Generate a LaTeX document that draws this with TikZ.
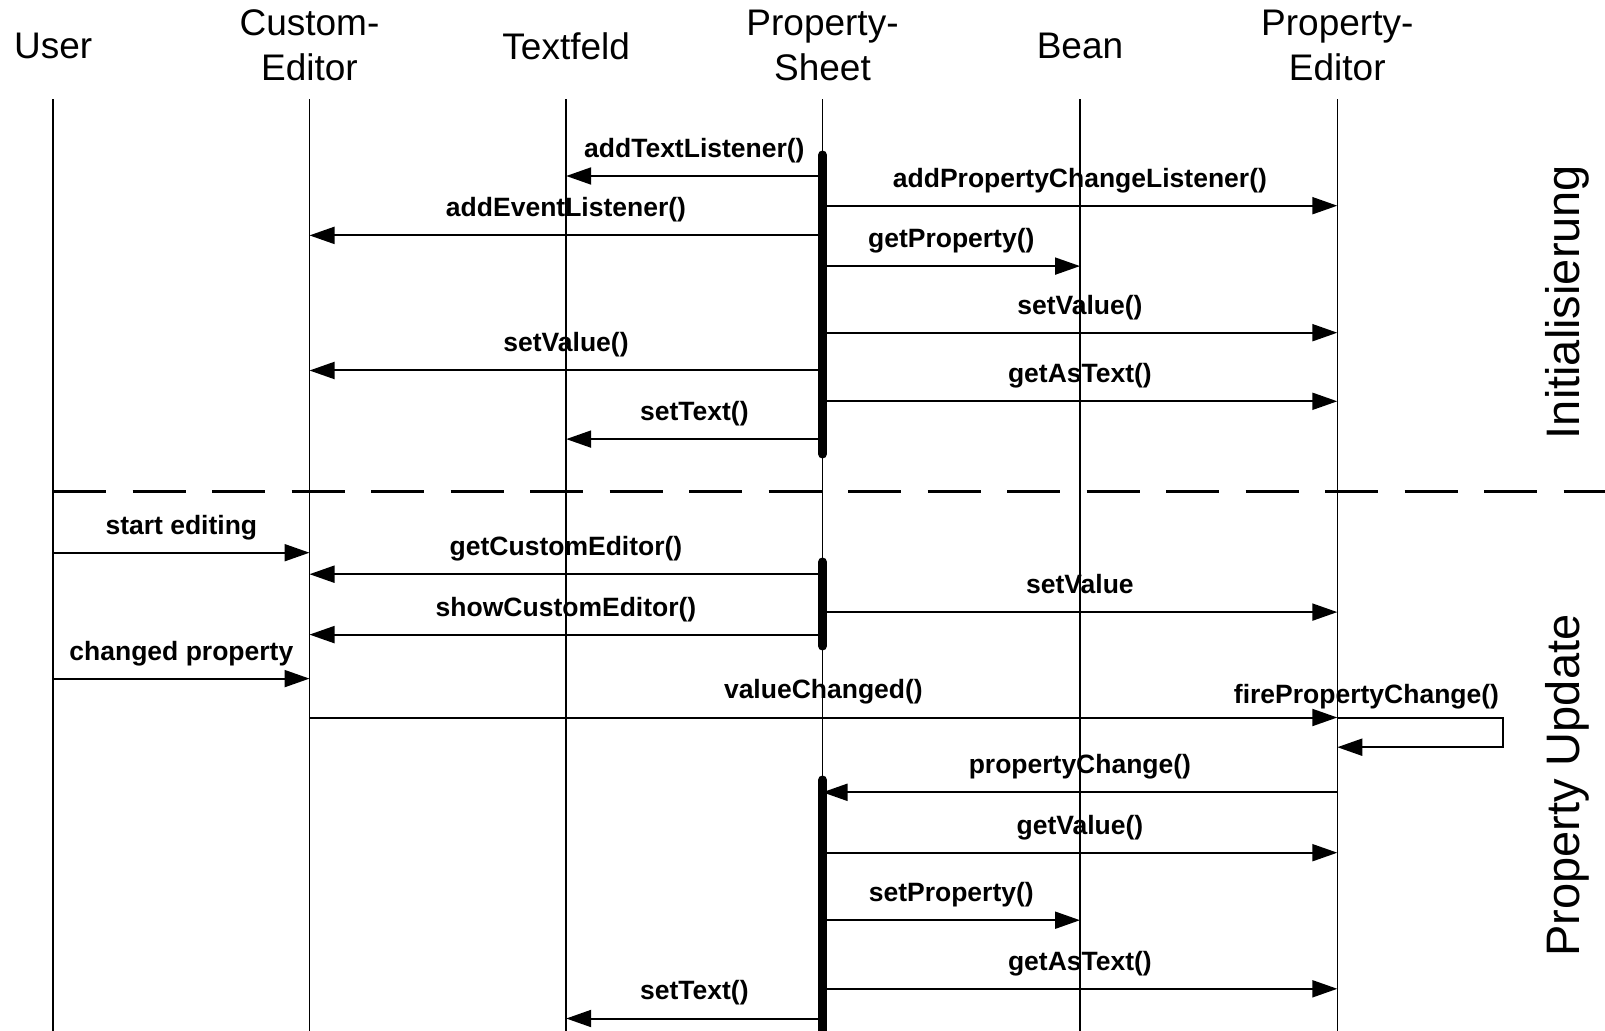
\documentclass[tikz,border=0pt]{standalone}
\usepackage{fontspec}
\setmainfont{Liberation Sans}
\usetikzlibrary{arrows.meta}
\begin{document}
\begin{tikzpicture}[x=0.5pt,y=-0.5pt,
 hdr/.style={font=\fontsize{18.5}{22.5}\selectfont, align=center, inner sep=0},
 side/.style={font=\fontsize{23.5}{28}\selectfont, rotate=90, anchor=base, inner sep=0},
 lbl/.style={font=\bfseries\fontsize{13.25}{16}\selectfont, inner sep=0, anchor=base},
 life/.style={line width=0.75pt},
 bar/.style={line width=4.5pt, line cap=round},
 msg/.style={line width=1pt, -{Triangle[length=12.5pt,width=8.5pt]}},
 sepline/.style={line width=1.6pt, dash pattern=on 26.5pt off 13.25pt}]
\useasboundingbox (0,0) rectangle (1605,1031);
\newcommand\seqmsg[4]{\draw[msg] (#1 |- 0,#3) -- node[lbl, midway, yshift=9.3pt]{#4} (#2 |- 0,#3);}
% headers
\node[hdr] (hU)  at (53.2,46)  {User};
\node[hdr] (hCE) at (309.5,45) {Custom-\\Editor};
\node[hdr] (hTF) at (566.2,46) {Textfeld};
\node[hdr] (hPS) at (822.5,45) {Property-\\Sheet};
\node[hdr] (hB)  at (1080,46)  {Bean};
\node[hdr] (hPE) at (1337.3,45) {Property-\\Editor};
% lifeline tops
\coordinate (U)  at (53.2,99.3);
\coordinate (CE) at (309.5,99.3);
\coordinate (TF) at (566.2,99.3);
\coordinate (PS) at (822.5,99.3);
\coordinate (B)  at (1080,99.3);
\coordinate (PE) at (1337.3,99.3);
\foreach \l in {U,CE,TF,PS,B,PE} \draw[life] (\l) -- (\l |- 0,1031);
% activation bars
\draw[bar] (PS |- 0,155) -- (PS |- 0,454);
\draw[bar] (PS |- 0,562) -- (PS |- 0,646);
\draw[bar] (PS |- 0,780) -- (PS |- 0,1040);
% separator
\coordinate (sepR) at (1605,491.3);
\draw[sepline] (U |- 0,491.3) -- (sepR);
% Initialisierung
\seqmsg{PS}{TF}{176}{addTextListener()}
\seqmsg{PS}{PE}{205.7}{addPropertyChangeListener()}
\seqmsg{PS}{CE}{235.4}{addEventListener()}
\seqmsg{PS}{B}{266.1}{getProperty()}
\seqmsg{PS}{PE}{332.7}{setValue()}
\seqmsg{PS}{CE}{370.5}{setValue()}
\seqmsg{PS}{PE}{401.3}{getAsText()}
\seqmsg{PS}{TF}{439.1}{setText()}
% Property Update
\seqmsg{U}{CE}{552.7}{start editing}
\seqmsg{PS}{CE}{574.2}{getCustomEditor()}
\seqmsg{PS}{PE}{612.1}{setValue}
\seqmsg{PS}{CE}{634.6}{showCustomEditor()}
\seqmsg{U}{CE}{678.6}{changed property}
\seqmsg{CE}{PE}{717.5}{valueChanged()}
\coordinate (loopA) at (1502.6,717.5);
\coordinate (loopB) at (1502.6,747.2);
\draw[msg] (PE |- 0,717.5) -- (loopA) -- (loopB) -- (PE |- 0,747.2);
\node[lbl] (fpc) at (1366.5,703.5) {firePropertyChange()};
\seqmsg{PE}{PS}{792.3}{propertyChange()}
\seqmsg{PS}{PE}{852.7}{getValue()}
\seqmsg{PS}{B}{920.2}{setProperty()}
\seqmsg{PS}{PE}{988.8}{getAsText()}
\seqmsg{PS}{TF}{1018.5}{setText()}
% side labels
\node[side] (sInit) at (1579,302) {Initialisierung};
\node[side] (sUpd) at (1579,785.6) {Property Update};
\end{tikzpicture}
\end{document}
